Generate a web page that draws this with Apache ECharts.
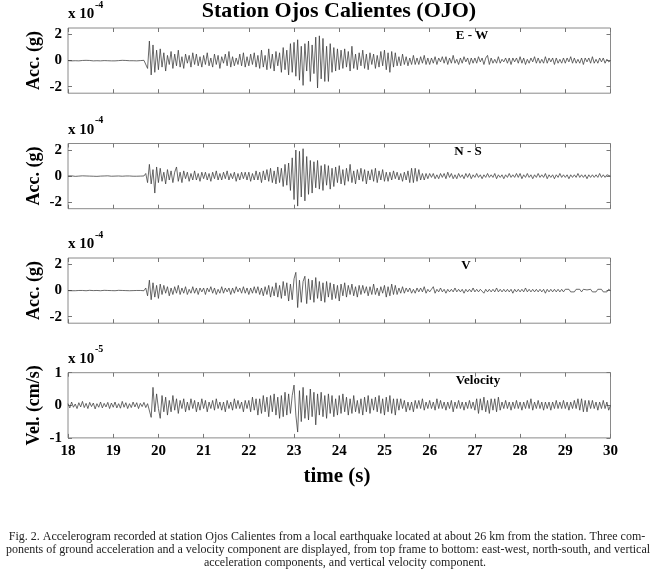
<!DOCTYPE html>
<html><head><meta charset="utf-8">
<script src="https://cdn.jsdelivr.net/npm/echarts@6/dist/echarts.min.js"></script>
<style>html,body{margin:0;padding:0;background:#fff}#c{width:653px;height:575px}</style>
</head><body><div id="c"></div>
<script>
// time base of sampled traces (s)
const T0 = 18, DT = 0.04;
const xTicks = [18,19,20,21,22,23,24,25,26,27,28,29,30];
const accTicks = [-2,0,2];
const velTicks = [-1,0,1];
const panelLabels = ['E - W','N - S','V','Velocity'];
const scaleExp = ['-4','-4','-4','-5'];
const yNames = ['Acc. (g)','Acc. (g)','Acc. (g)','Vel. (cm/s)'];

// E-W acceleration (x1e-4 g), one row per second
const ew = [
0,0.02,-0.02,0.01,-0.01,0.02,-0.02,0,0.01,-0.02,0.02,-0.01,0.01,0,-0.02,0.02,-0.01,0.01,-0.02,0.01,0,0.02,-0.01,0.01,-0.02,
0.01,-0.02,0.02,0,-0.01,0.02,-0.02,0.01,0,-0.01,0.02,-0.01,0.01,-0.02,0.02,0,-0.01,0.02,0.1,-0.6,1.5,-1.1,1.2,-0.9,0.8,
-0.7,0.9,-0.5,0.6,-0.8,0.4,-0.3,0.7,-0.6,0.5,-0.4,0.8,-0.5,0.3,-0.6,0.5,-0.2,0.4,-0.5,0.6,-0.3,0.5,-0.4,0.3,-0.5,
0.4,-0.3,0.6,-0.4,0.2,-0.5,0.5,-0.3,0.4,-0.6,0.3,-0.2,0.5,-0.4,0.7,-0.5,0.3,-0.4,0.2,-0.3,0.5,-0.4,0.6,-0.5,0.3,
-0.4,0.5,-0.3,0.6,-0.5,0.4,-0.6,0.8,-0.5,0.4,-0.7,0.9,-0.6,0.5,-0.8,0.7,-0.4,0.6,-0.9,1.0,-0.7,0.8,-1.1,1.3,-0.9,
1.4,-1.2,1.6,-1.5,1.1,-1.9,1.3,-0.8,1.5,-1.6,1.2,-1.0,1.8,-2.1,1.9,-1.4,1.7,-1.6,1.1,-1.6,1.3,-0.9,1.0,-0.8,0.9,
-0.7,0.8,-0.6,0.9,-0.5,0.7,-0.8,1.1,-0.6,0.5,-0.7,0.6,-0.4,0.8,-0.6,0.5,-0.7,0.6,-0.3,0.5,-0.6,0.4,-0.5,0.7,-0.4,
0.8,-0.7,0.6,-0.9,0.7,-0.5,0.6,-0.4,0.3,-0.4,0.5,-0.3,0.3,-0.4,0.2,-0.3,0.4,-0.3,0.2,-0.3,0.3,-0.2,0.4,-0.3,0.2,
-0.3,0.2,-0.2,0.3,-0.3,0.2,-0.1,0.3,-0.2,0.3,-0.3,0.2,-0.2,0.4,-0.2,0.1,-0.3,0.2,-0.2,0.3,-0.1,0.2,-0.3,0.2,-0.2,
0.2,-0.2,0.3,-0.1,0.2,-0.3,0.2,0.4,-0.3,0.2,-0.2,0.1,-0.2,0.3,-0.2,0.1,-0.1,0.2,-0.2,0.2,-0.3,0.2,-0.1,0.2,-0.2,
0.3,-0.2,0.2,-0.3,0.1,-0.2,0.2,-0.1,0.3,-0.2,0.2,-0.2,0.1,-0.2,0.3,-0.2,0.2,-0.1,0.2,-0.3,0.2,-0.2,0.1,-0.2,0.2,
-0.2,0.2,-0.1,0.3,-0.2,0.2,-0.2,0.1,-0.2,0.2,-0.3,0.2,-0.1,0.2,-0.2,0.3,-0.2,0.1,-0.2,0.2,-0.1,0.2,-0.2,0.1,-0.1,
0];

// N-S acceleration (x1e-4 g)
const ns = [
0.01,-0.01,0.02,0,-0.02,0.01,0,-0.01,0.02,-0.01,0.01,-0.02,0,0.01,-0.01,0.02,-0.02,0.01,0,-0.01,0.01,-0.02,0.02,0,-0.01,
0.01,0,-0.02,0.01,0.02,-0.01,0,0.01,-0.02,0.01,0,-0.01,0.02,-0.01,0.01,0,-0.02,0.01,0.2,-0.5,0.9,-0.6,0.5,-1.3,0.7,
-0.5,0.6,-0.4,0.3,-0.6,0.5,-0.3,0.4,-0.5,0.3,0.7,-0.4,0.3,-0.5,0.4,-0.2,0.3,-0.4,0.2,-0.3,0.4,-0.3,0.2,-0.4,0.3,
-0.2,0.3,-0.3,0.2,-0.4,0.3,-0.2,0.4,-0.3,0.2,-0.3,0.3,-0.2,0.4,-0.3,0.2,-0.2,0.3,-0.4,0.2,-0.3,0.3,-0.2,0.3,-0.3,
0.3,-0.4,0.2,-0.3,0.4,-0.3,0.3,-0.5,0.4,-0.3,0.5,-0.4,0.6,-0.5,0.4,-0.6,0.7,-0.5,0.6,-0.8,0.9,-0.7,1.0,-1.1,1.4,
-1.8,2.0,-2.3,1.9,-1.6,2.1,-1.9,1.5,-1.4,1.2,-1.3,1.1,-0.9,1.2,-1.0,0.8,-1.1,0.9,-0.7,0.8,-1.0,0.6,-0.8,0.7,-0.5,
0.8,-0.6,0.5,-0.7,0.6,-0.4,0.9,-0.5,0.4,-0.6,0.5,-0.3,0.6,-0.4,0.5,-0.6,0.4,-0.3,0.5,-0.4,0.6,-0.5,0.4,-0.3,0.5,
-0.4,0.3,-0.4,0.3,-0.3,0.4,-0.2,0.3,-0.3,0.2,-0.4,0.3,-0.3,0.4,-0.5,0.6,-0.5,0.6,-0.4,0.5,-0.3,0.2,-0.3,0.2,-0.2,
0.2,-0.1,0.2,-0.2,0.1,-0.2,0.2,-0.1,0.2,-0.2,0.3,-0.1,0.2,-0.2,0.1,-0.2,0.2,-0.1,0.1,-0.2,0.2,-0.1,0.2,-0.2,0.1,
-0.1,0.2,-0.1,0.1,-0.2,0.1,-0.1,0.2,-0.1,0.1,-0.1,0.2,-0.2,0.1,-0.1,0.1,-0.2,0.1,-0.1,0.2,-0.1,0.1,-0.1,0.2,-0.1,
0.2,-0.2,0.1,-0.1,0.2,-0.1,0.1,-0.2,0.1,-0.1,0.2,-0.1,0.1,-0.1,0.2,-0.2,0.1,-0.1,0.1,-0.2,0.1,-0.1,0.2,-0.1,0.1,
-0.1,0.1,-0.2,0.1,-0.1,0.1,-0.1,0.2,-0.1,0.1,-0.1,0.1,-0.2,0.1,-0.1,0.1,-0.1,0.1,-0.1,0.2,-0.1,0.1,-0.1,0.1,0,
0];

// Vertical acceleration (x1e-4 g)
const vz = [
0,0.01,-0.01,0.02,-0.01,0,0.01,-0.02,0.01,0,-0.01,0.01,0.02,-0.01,0,-0.02,0.01,0.01,-0.01,0,0.02,-0.01,0.01,-0.02,0,
0.01,-0.01,0,0.02,-0.01,0.01,-0.02,0,0.01,-0.01,0.02,0,-0.01,0.01,-0.02,0.01,0,-0.01,0.2,-0.4,0.8,-0.7,0.6,-0.5,0.4,
-0.6,0.5,-0.3,0.4,-0.2,0.3,-0.4,0.2,-0.3,0.3,-0.2,0.4,-0.3,0.2,-0.2,0.3,-0.3,0.1,-0.2,0.3,-0.2,0.2,-0.3,0.2,-0.1,
0.2,-0.3,0.2,-0.1,0.3,-0.2,0.2,-0.3,0.1,-0.2,0.3,-0.2,0.2,-0.1,0.2,-0.3,0.2,-0.2,0.3,-0.1,0.2,-0.2,0.3,-0.2,0.2,
-0.3,0.2,-0.2,0.3,-0.2,0.3,-0.3,0.2,-0.4,0.3,-0.3,0.4,-0.5,0.3,-0.4,0.6,-0.5,0.4,-0.6,0.7,-0.4,0.6,-0.8,0.5,-0.7,
0.9,1.4,-1.3,0.8,-0.9,0.7,1.1,-1.0,0.9,-0.7,0.8,-0.9,1.0,-0.6,0.7,-0.8,0.6,-0.9,0.7,-0.5,0.6,-0.7,0.5,-0.6,0.4,
-0.8,0.5,-0.4,0.6,-0.5,0.4,-0.3,0.5,-0.4,0.3,-0.5,0.4,-0.3,0.4,-0.2,0.3,-0.4,0.3,-0.3,0.5,-0.3,0.2,-0.4,0.3,-0.2,
0.4,-0.5,0.3,-0.4,0.5,-0.3,0.4,-0.3,0.2,-0.2,0.3,-0.2,0.2,-0.1,0.2,-0.2,0.1,-0.2,0.2,-0.1,0.2,-0.1,0.3,-0.2,0.1,
-0.1,0.1,0.3,-0.2,0.1,-0.1,0.2,-0.1,0.1,-0.2,0.1,-0.1,0.1,-0.1,0.2,-0.1,0.1,-0.1,0.1,-0.2,0.1,-0.1,0.1,-0.1,0.2,
-0.1,0.1,-0.1,0.1,0.2,-0.2,0.1,-0.1,0.1,-0.1,0.1,-0.1,0.2,-0.1,0.1,-0.1,0.1,-0.1,0.1,-0.1,0.1,-0.2,0.1,-0.1,0.1,
-0.1,0.1,-0.1,0.2,-0.1,0.1,-0.1,0.1,-0.1,0.1,-0.1,0.1,-0.1,0.1,-0.2,0.1,-0.1,0.1,-0.1,0.1,-0.1,0.1,-0.1,0.1,-0.1,
0.1,-0.05,0.1,-0.1,0.05,-0.1,0.1,-0.05,0.1,-0.1,0.1,-0.05,0.05,-0.1,0.1,-0.1,0.05,-0.1,0.1,-0.05,0.1,-0.1,0.05,-0.1,0.1,
0];

// Vertical velocity (x1e-5 cm/s)
const vel = [
0.05,-0.08,0.1,-0.06,0.04,-0.1,0.08,-0.05,0.12,-0.07,0.06,-0.1,0.09,-0.04,0.07,-0.11,0.05,-0.06,0.1,-0.08,0.06,-0.05,0.09,-0.1,0.07,
-0.06,0.1,-0.08,0.05,-0.09,0.12,-0.06,0.08,-0.1,0.05,-0.07,0.1,-0.05,0.08,-0.1,0.06,-0.04,0.09,-0.07,0.05,0.1,-0.37,0.55,-0.2,0.35,
-0.1,-0.4,0.3,-0.2,0.25,-0.3,0.15,-0.2,0.3,-0.15,0.2,-0.25,0.15,-0.1,0.2,-0.2,0.1,-0.15,0.2,-0.1,0.15,-0.2,0.1,-0.15,0.2,
-0.1,0.15,-0.2,0.1,-0.1,0.15,-0.15,0.2,-0.1,0.1,-0.15,0.1,-0.2,0.15,-0.1,0.1,-0.15,0.2,-0.1,0.15,-0.1,0.1,-0.2,0.15,-0.1,
0.15,-0.2,0.25,-0.15,0.2,-0.3,0.2,-0.25,0.3,-0.2,0.25,-0.35,0.3,-0.2,0.35,-0.3,0.25,-0.4,0.3,-0.35,0.4,-0.3,0.35,-0.25,0.3,
0.62,-0.3,-0.82,0.45,-0.5,0.55,-0.4,0.3,-0.45,0.5,-0.35,0.4,-0.6,0.35,-0.3,0.4,-0.35,0.3,-0.4,0.35,-0.25,0.3,-0.35,0.2,-0.3,
0.3,-0.25,0.35,-0.2,0.25,-0.3,0.2,-0.25,0.3,-0.2,0.15,-0.25,0.2,-0.3,0.25,-0.2,0.3,-0.25,0.2,-0.15,0.25,-0.2,0.3,-0.25,0.2,
-0.3,0.25,-0.2,0.3,-0.25,0.2,-0.3,0.2,-0.15,0.2,-0.1,0.15,-0.2,0.1,-0.15,0.1,-0.2,0.15,-0.1,0.15,-0.1,0.2,-0.15,0.1,-0.1,
0.15,-0.1,0.1,-0.15,0.2,-0.1,0.15,-0.1,0.1,-0.15,0.1,-0.1,0.15,-0.2,0.1,-0.1,0.15,-0.1,0.1,-0.15,0.1,-0.1,0.15,-0.1,0.1,
-0.15,0.2,-0.25,0.2,-0.15,0.25,-0.2,0.15,-0.25,0.2,-0.15,0.2,-0.2,0.25,-0.15,0.1,-0.1,0.15,-0.1,0.1,-0.15,0.1,-0.1,0.15,-0.1,
0.1,-0.15,0.1,-0.1,0.15,-0.1,0.2,-0.15,0.1,-0.1,0.15,-0.1,0.1,-0.15,0.1,-0.1,0.1,-0.15,0.1,-0.1,0.15,-0.1,0.1,-0.1,0.15,
-0.1,0.1,-0.15,0.1,-0.1,0.15,-0.1,0.2,-0.15,0.2,-0.2,0.15,-0.2,0.15,-0.1,0.15,-0.1,0.1,-0.15,0.1,-0.1,0.15,-0.1,0.1,-0.15,
0];

const traces = [ew, ns, vz, vel];
const ranges = [[-2.5,2.5],[-2.5,2.5],[-2.5,2.5],[-1,1]];
const yTickSets = [accTicks, accTicks, accTicks, velTicks];

const FONT = '"Liberation Serif", "DejaVu Serif", serif';
const gridTops = [28, 143.5, 258, 372.7];
const GH = 65.2, GL = 68, GR = 42.5;

const grids = [], xAxes = [], yAxes = [], series = [], graphics = [];
gridTops.forEach((top, k) => {
  grids.push({left: GL, right: GR, top: top, height: GH, show: true,
    borderColor: '#8a8a8a', borderWidth: 1, backgroundColor: 'transparent'});
  const isLast = k === 3;
  const tickStyle = {show: true, inside: true, length: 4, lineStyle: {color: '#777', width: 1}};
  const noLine = {show: false, onZero: false};
  xAxes.push({type: 'value', gridIndex: k, position: 'bottom', min: 18, max: 30, interval: 1,
    axisLine: noLine, splitLine: {show: false}, axisTick: tickStyle,
    axisLabel: {show: isLast, color: '#000', fontFamily: FONT, fontWeight: 'bold', fontSize: 15, margin: 6}});
  xAxes.push({type: 'value', gridIndex: k, position: 'top', min: 18, max: 30, interval: 1,
    axisLine: noLine, splitLine: {show: false}, axisTick: tickStyle, axisLabel: {show: false}});
  const yt = yTickSets[k];
  yAxes.push({type: 'value', gridIndex: k, position: 'left', min: ranges[k][0], max: ranges[k][1],
    axisLine: noLine, splitLine: {show: false},
    axisTick: Object.assign({customValues: yt}, tickStyle),
    axisLabel: {customValues: yt, color: '#000', fontFamily: FONT, fontWeight: 'bold', fontSize: 15, margin: 6}});
  yAxes.push({type: 'value', gridIndex: k, position: 'right', min: ranges[k][0], max: ranges[k][1],
    axisLine: noLine, splitLine: {show: false},
    axisTick: Object.assign({customValues: yt}, tickStyle), axisLabel: {show: false}});
  series.push({type: 'line', xAxisIndex: 2*k, yAxisIndex: 2*k, showSymbol: false, silent: true,
    animation: false, sampling: null,
    lineStyle: {color: '#3a3a3a', width: 0.75},
    data: traces[k].map((v, i) => [+(T0 + i*DT).toFixed(2), v])});
  // scale factor label
  graphics.push({type: 'text', left: 68, top: top - 21, style: {text: 'x 10', font: 'bold 15px ' + FONT, fill: '#000'}});
  graphics.push({type: 'text', left: 95, top: top - 28, style: {text: scaleExp[k], font: 'bold 10px ' + FONT, fill: '#000'}});
  // y axis name
  graphics.push({type: 'text', x: 34, y: top + GH/2, rotation: Math.PI/2,
    style: {text: yNames[k], font: 'bold 18px ' + FONT, fill: '#000', align: 'center', verticalAlign: 'middle'}});
  // panel label
  const lx = [472, 468, 466, 478][k];
  graphics.push({type: 'text', x: lx, y: top + 8, style: {text: panelLabels[k], font: 'bold 13px ' + FONT, fill: '#000', align: 'center', verticalAlign: 'middle'}});
});

graphics.push({type: 'text', x: 339, y: 11, style: {text: 'Station Ojos Calientes (OJO)', font: 'bold 22px ' + FONT, fill: '#000', align: 'center', verticalAlign: 'middle'}});
graphics.push({type: 'text', x: 337, y: 477, style: {text: 'time (s)', font: 'bold 21px ' + FONT, fill: '#000', align: 'center', verticalAlign: 'middle'}});
const caption = [
 'Fig. 2. Accelerogram recorded at station Ojos Calientes from a local earthquake located at about 26 km from the station. Three com-',
 'ponents of ground acceleration and a velocity component are displayed, from top frame to bottom: east-west, north-south, and vertical',
 'acceleration components, and vertical velocity component.'
];
const capX = [327, 328, 345];
caption.forEach((line, i) => {
  graphics.push({type: 'text', x: capX[i], y: 537 + i*12.8, style: {text: line, font: '12px ' + FONT, fill: '#222', align: 'center', verticalAlign: 'middle'}});
});

const chart = echarts.init(document.getElementById('c'), null, {renderer: 'canvas'});
chart.setOption({animation: false, grid: grids, xAxis: xAxes, yAxis: yAxes, series: series, graphic: graphics});
</script></body></html>
